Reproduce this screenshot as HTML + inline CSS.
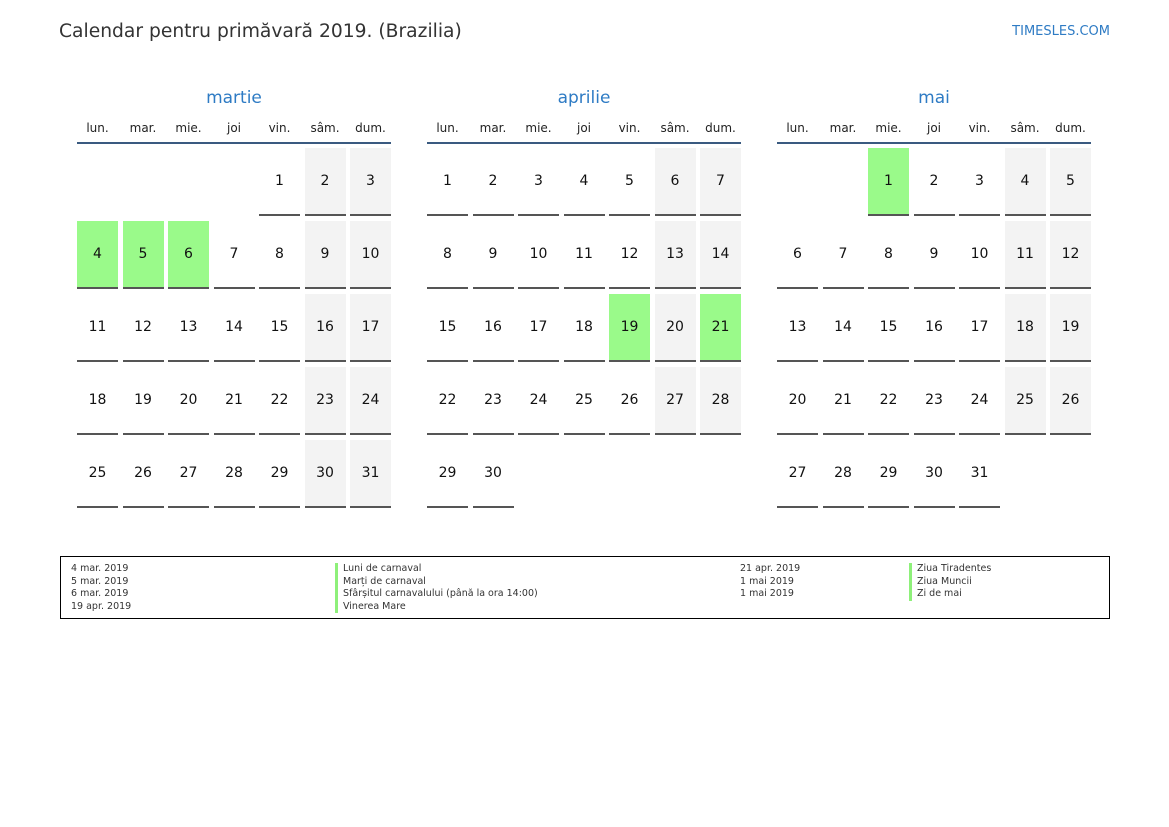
<!DOCTYPE html>
<html><head><meta charset="utf-8"><style>
body{margin:0;width:1169px;height:827px;background:#fff;font-family:"DejaVu Sans","Liberation Sans",sans-serif;position:relative;overflow:hidden}
.t{position:absolute;left:59px;top:21px;font-size:18.7px;color:#333}
.s{position:absolute;right:59px;top:24px;font-size:13px;color:#2e7bc4}
.m{position:absolute;top:88px;width:314px}
.mt{text-align:center;font-size:17px;color:#2e7bc4;height:22px}
.wd{display:grid;grid-template-columns:repeat(7,41px);column-gap:4.5px;margin-top:11px;font-size:12px;color:#222;text-align:center;padding-bottom:7px;border-bottom:2px solid #3a5a80}
.g{display:grid;grid-template-columns:repeat(7,41px);grid-auto-rows:68px;column-gap:4.5px;row-gap:5px;margin-top:4px}
.g div{box-sizing:border-box;border-bottom:2px solid #555;display:flex;align-items:center;justify-content:center;font-size:14px;color:#111}
.g div.e{border:none}
.g div.w{background:#f3f3f3}
.g div.h{background:#9afa8a}
.lg{position:absolute;left:60px;top:556px;width:1048px;height:61px;border:1px solid #000;font-size:9.5px;color:#333;line-height:12.5px}
.c{position:absolute;top:6px}
.b{border-left:3px solid #8ef07a;padding-left:5px}
</style></head><body>
<div class="t">Calendar pentru primăvară 2019. (Brazilia)</div>
<div class="s">TIMESLES.COM</div>

<div class="m" style="left:77px"><div class="mt">martie</div>
<div class="wd"><span>lun.</span><span>mar.</span><span>mie.</span><span>joi</span><span>vin.</span><span>sâm.</span><span>dum.</span></div>
<div class="g">
<div class="e"></div><div class="e"></div><div class="e"></div><div class="e"></div><div>1</div><div class="w">2</div><div class="w">3</div>
<div class="h">4</div><div class="h">5</div><div class="h">6</div><div>7</div><div>8</div><div class="w">9</div><div class="w">10</div>
<div>11</div><div>12</div><div>13</div><div>14</div><div>15</div><div class="w">16</div><div class="w">17</div>
<div>18</div><div>19</div><div>20</div><div>21</div><div>22</div><div class="w">23</div><div class="w">24</div>
<div>25</div><div>26</div><div>27</div><div>28</div><div>29</div><div class="w">30</div><div class="w">31</div>
</div></div>

<div class="m" style="left:427px"><div class="mt">aprilie</div>
<div class="wd"><span>lun.</span><span>mar.</span><span>mie.</span><span>joi</span><span>vin.</span><span>sâm.</span><span>dum.</span></div>
<div class="g">
<div>1</div><div>2</div><div>3</div><div>4</div><div>5</div><div class="w">6</div><div class="w">7</div>
<div>8</div><div>9</div><div>10</div><div>11</div><div>12</div><div class="w">13</div><div class="w">14</div>
<div>15</div><div>16</div><div>17</div><div>18</div><div class="h">19</div><div class="w">20</div><div class="h">21</div>
<div>22</div><div>23</div><div>24</div><div>25</div><div>26</div><div class="w">27</div><div class="w">28</div>
<div>29</div><div>30</div>
</div></div>

<div class="m" style="left:777px"><div class="mt">mai</div>
<div class="wd"><span>lun.</span><span>mar.</span><span>mie.</span><span>joi</span><span>vin.</span><span>sâm.</span><span>dum.</span></div>
<div class="g">
<div class="e"></div><div class="e"></div><div class="h">1</div><div>2</div><div>3</div><div class="w">4</div><div class="w">5</div>
<div>6</div><div>7</div><div>8</div><div>9</div><div>10</div><div class="w">11</div><div class="w">12</div>
<div>13</div><div>14</div><div>15</div><div>16</div><div>17</div><div class="w">18</div><div class="w">19</div>
<div>20</div><div>21</div><div>22</div><div>23</div><div>24</div><div class="w">25</div><div class="w">26</div>
<div>27</div><div>28</div><div>29</div><div>30</div><div>31</div>
</div></div>

<div class="lg">
<div class="c" style="left:10px">4 mar. 2019<br>5 mar. 2019<br>6 mar. 2019<br>19 apr. 2019</div>
<div class="c" style="left:274px"><div class="b">Luni de carnaval</div><div class="b">Marți de carnaval</div><div class="b">Sfârșitul carnavalului (până la ora 14:00)</div><div class="b">Vinerea Mare</div></div>
<div class="c" style="left:679px">21 apr. 2019<br>1 mai 2019<br>1 mai 2019</div>
<div class="c" style="left:848px"><div class="b">Ziua Tiradentes</div><div class="b">Ziua Muncii</div><div class="b">Zi de mai</div></div>
</div>
</body></html>
